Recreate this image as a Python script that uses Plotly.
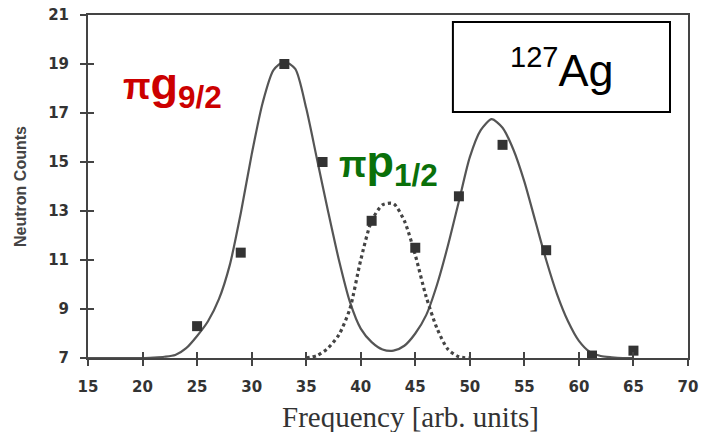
import plotly.graph_objects as go

# Fitted curve (solid): pi g9/2 peak + right peak
fit_x = [15, 18, 20, 21, 22, 23, 24, 25, 26, 27, 28, 29, 30, 31, 32, 33, 34, 35, 36, 37,
         38, 39, 40, 41, 42, 43, 44, 45, 46, 47, 48, 49, 50, 51, 52, 53, 54, 55, 56, 57,
         58, 59, 60, 61, 62, 63, 64, 65]
fit_y = [7.0, 7.0, 7.0, 7.02, 7.05, 7.12, 7.4, 7.9, 8.5, 9.4, 10.8, 12.9, 15.3, 17.4, 18.75, 19.1, 18.8, 17.2, 15.1, 13.0,
         11.0, 9.3, 8.2, 7.65, 7.35, 7.3, 7.5, 8.0, 8.75, 10.0, 11.6, 13.4, 15.2, 16.3, 16.75, 16.4, 15.5, 14.2, 12.6, 11.0,
         9.6, 8.5, 7.7, 7.25, 7.08, 7.03, 7.0, 7.0]

# Dotted curve: pi p1/2 peak
p12_x = [35, 36, 37, 38, 39, 40, 41, 42, 43, 44, 45, 46, 47, 48, 49, 50]
p12_y = [7.0, 7.1, 7.4, 7.95, 9.0, 11.0, 12.6, 13.25, 13.3, 12.6, 11.2, 9.5, 8.2, 7.35, 7.05, 7.0]

# Measured points
data_x = [25, 29, 33, 36.5, 41, 45, 49, 53, 57, 61.2, 65]
data_y = [8.3, 11.3, 19.0, 15.0, 12.6, 11.5, 13.6, 15.7, 11.4, 7.1, 7.3]

x_ticks = [15, 20, 25, 30, 35, 40, 45, 50, 55, 60, 65, 70]
y_ticks = [7, 9, 11, 13, 15, 17, 19, 21]

fig = go.Figure()
fig.add_trace(go.Scatter(x=fit_x, y=fit_y, mode="lines",
                         line=dict(color="#555555", width=2.2, shape="spline", smoothing=0.7),
                         hoverinfo="skip"))
fig.add_trace(go.Scatter(x=p12_x, y=p12_y, mode="lines",
                         line=dict(color="#444444", width=3.2, dash="dot", shape="spline", smoothing=0.7),
                         hoverinfo="skip"))
fig.add_trace(go.Scatter(x=data_x, y=data_y, mode="markers",
                         marker=dict(symbol="square", size=10, color="#333333")))
# invisible trace for the overlay axes (inner half of crossing ticks)
fig.add_trace(go.Scatter(x=[None], y=[None], xaxis="x2", yaxis="y2", showlegend=False, hoverinfo="skip"))

xtickfont = dict(family="DejaVu Sans", size=15, color="#333333", weight="bold")
ytickfont = dict(family="DejaVu Sans", size=15, color="#333333", weight="bold")

fig.update_layout(
    width=702, height=432,
    margin=dict(l=88, r=14, t=15, b=74),
    paper_bgcolor="white", plot_bgcolor="white",
    showlegend=False,
    xaxis=dict(range=[15, 70], tickvals=x_ticks, ticks="outside", ticklen=6, tickwidth=2, tickcolor="#444444",
               showline=True, linecolor="#444444", linewidth=2, mirror=True, showgrid=False, zeroline=False,
               tickfont=xtickfont, ticklabelstandoff=8, automargin=False),
    yaxis=dict(range=[7, 21], tickvals=y_ticks, ticks="outside", ticklen=6, tickwidth=2, tickcolor="#444444",
               showline=True, linecolor="#444444", linewidth=2, mirror=True, showgrid=False, zeroline=False,
               tickfont=ytickfont, ticklabelstandoff=8, automargin=False,
               title=dict(text="Neutron Counts", standoff=18,
                          font=dict(family="Liberation Sans, Arial", size=16, color="#444444", weight="bold"))),
    xaxis2=dict(range=[15, 70], tickvals=x_ticks, ticks="inside", ticklen=6, tickwidth=2, tickcolor="#444444",
                overlaying="x", anchor="y2", side="bottom", showticklabels=False, showgrid=False, zeroline=False,
                showline=False, automargin=False),
    yaxis2=dict(range=[7, 21], tickvals=y_ticks, ticks="inside", ticklen=6, tickwidth=2, tickcolor="#444444",
                overlaying="y", anchor="x2", side="left", showticklabels=False, showgrid=False, zeroline=False,
                showline=False, automargin=False),
)

# x-axis title
fig.add_annotation(xref="paper", yref="paper", x=0.537, y=-0.172, xanchor="center", yanchor="middle",
                   showarrow=False, text="Frequency [arb. units]",
                   font=dict(family="Liberation Serif, Times New Roman", size=29, color="#333333"))

# 127Ag box
fig.add_shape(type="rect", xref="x", yref="y", x0=48.45, x1=68.35, y0=17.04, y1=20.71,
              line=dict(color="black", width=2), fillcolor="white", layer="above")
fig.add_annotation(xref="x", yref="y", x=58.4, y=18.8, showarrow=False,
                   text="<sup><span style='font-size:29px'>127</span></sup>Ag",
                   font=dict(family="Liberation Sans, Arial", size=45, color="black"))

# Labels
fig.add_annotation(xref="x", yref="y", x=22.7, y=18.1, showarrow=False, xanchor="center",
                   text="<b><span style='font-size:36px'>π</span>g<sub>9/2</sub></b>",
                   font=dict(family="Liberation Sans, Arial", size=45, color="#cc0000"))
fig.add_annotation(xref="x", yref="y", x=42.5, y=14.9, showarrow=False, xanchor="center",
                   text="<b><span style='font-size:36px'>π</span>p<sub>1/2</sub></b>",
                   font=dict(family="Liberation Sans, Arial", size=45, color="#0a700a"))

fig.write_html("out.html")
